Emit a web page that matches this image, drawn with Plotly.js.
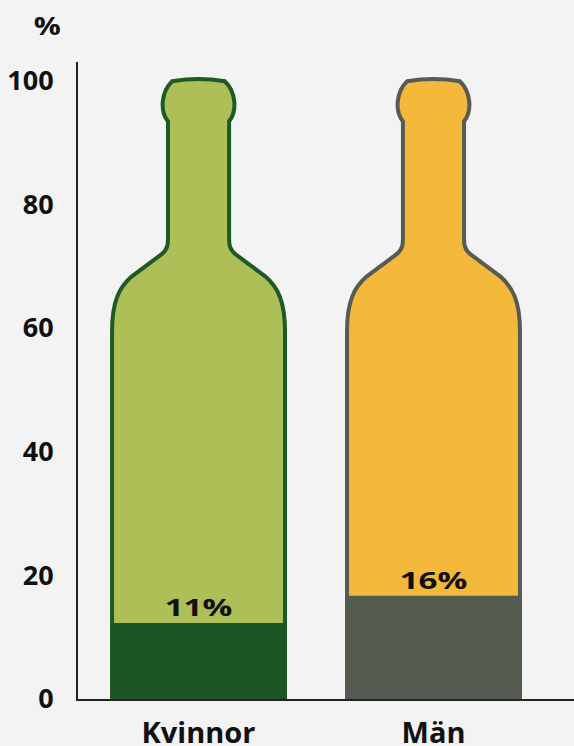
<!DOCTYPE html>
<html>
<head>
<meta charset="utf-8">
<script src="https://cdn.plot.ly/plotly-3.0.1.min.js"></script>
<style>
html,body{margin:0;padding:0;background:#f3f3f3;}
#chart{width:574px;height:746px;}
</style>
</head>
<body>
<div id="chart"></div>
<script>
// ---- data ----
const categories = ['Kvinnor', 'Män'];
const shareLabels = ['11%', '16%'];
const fillLevels = [12.3, 16.7];          // height of dark fill (%)
const bottleColors = ['#adbf56', '#f4b83b'];
const bottleStrokes = ['#1d5a26', '#575b53'];
const fillColors = ['#1c5425', '#545a4f'];
const yTicks = [0, 20, 40, 60, 80, 100];

// ---- bottle silhouette (half-width in x units, height in % units) ----
function bottlePath(cx) {
  const p = (hw, y) => (cx + hw).toFixed(4) + ',' + y;
  const right = [
    'L' + p(0.368, 0),
    'L' + p(0.368, 59.5),
    'C' + p(0.368, 64.5) + ' ' + p(0.335, 66.6) + ' ' + p(0.285, 68.3),
    'L' + p(0.158, 71.9),
    'C' + p(0.131, 72.7) + ' ' + p(0.130, 73.5) + ' ' + p(0.130, 74.6),
    'L' + p(0.130, 93.4),
    'C' + p(0.165, 95.0) + ' ' + p(0.160, 98.2) + ' ' + p(0.112, 99.9),
    'Q' + p(0, 100.6) + ' ' + p(-0.112, 99.9),
    'C' + p(-0.160, 98.2) + ' ' + p(-0.165, 95.0) + ' ' + p(-0.130, 93.4),
    'L' + p(-0.130, 74.6),
    'C' + p(-0.130, 73.5) + ' ' + p(-0.131, 72.7) + ' ' + p(-0.158, 71.9),
    'L' + p(-0.285, 68.3),
    'C' + p(-0.335, 66.6) + ' ' + p(-0.368, 64.5) + ' ' + p(-0.368, 59.5),
    'L' + p(-0.368, 0)
  ];
  return 'M' + p(-0.368, 0) + ' ' + right.join(' ') + ' Z';
}

const xs = categories.map((c, i) => i);

const shapes = xs.map((x, i) => ({
  type: 'path', xref: 'x', yref: 'y', layer: 'below',
  path: bottlePath(x),
  fillcolor: bottleColors[i],
  line: {color: bottleStrokes[i], width: 4}
}));

const FONT = 'Open Sans, Noto Sans, sans-serif';

const annotations = xs.map((x, i) => ({
  x: x, y: fillLevels[i], xref: 'x', yref: 'y',
  text: shareLabels[i], showarrow: false,
  yanchor: 'bottom', yshift: -2,
  font: {family: FONT, size: 24, color: '#111', weight: 700}
}));
annotations.push({
  x: -0.0625, y: 1.058, xref: 'paper', yref: 'paper',
  text: '%', showarrow: false, xanchor: 'center', yanchor: 'middle',
  font: {family: FONT, size: 25, color: '#111', weight: 700}
});

const trace = {
  type: 'bar',
  x: xs, y: fillLevels,
  width: 0.75,
  marker: {color: fillColors, line: {width: 0}},
  hoverinfo: 'skip'
};

const layout = {
  width: 574, height: 746,
  margin: {l: 78, r: 0, t: 62, b: 47},
  paper_bgcolor: '#f3f3f3', plot_bgcolor: 'rgba(0,0,0,0)',
  showlegend: false,
  xaxis: {
    range: [-0.513, 1.598],
    tickvals: xs, ticktext: categories,
    showgrid: false, zeroline: false,
    showline: true, linecolor: '#222', linewidth: 2,
    ticks: '', ticklabelstandoff: 7,
    tickfont: {family: FONT, size: 29, color: '#111', weight: 700},
    fixedrange: true
  },
  yaxis: {
    range: [0, 103],
    tickvals: yTicks,
    showgrid: false, zeroline: false,
    showline: true, linecolor: '#222', linewidth: 2,
    ticks: '', ticklabelstandoff: 17,
    tickfont: {family: FONT, size: 27, color: '#111', weight: 700},
    fixedrange: true
  },
  shapes: shapes,
  annotations: annotations
};

// horizontal stretch of a text element around its own box (keeps existing transform)
function stretchText(el, s) {
  const bb = el.getBBox();
  const cx = bb.x + bb.width / 2;
  const t = el.getAttribute('transform') || '';
  el.setAttribute('transform', t + ' translate(' + cx + ',0) scale(' + s + ',1) translate(' + (-cx) + ',0)');
}

Plotly.newPlot('chart', [trace], layout, {displayModeBar: false, staticPlot: true}).then(gd => {
  const texts = gd.querySelectorAll('.annotation-text');
  texts.forEach(el => {
    const s = el.textContent === '%' ? 1.2 : 1.38;
    stretchText(el, s);
  });
});
</script>
</body>
</html>
